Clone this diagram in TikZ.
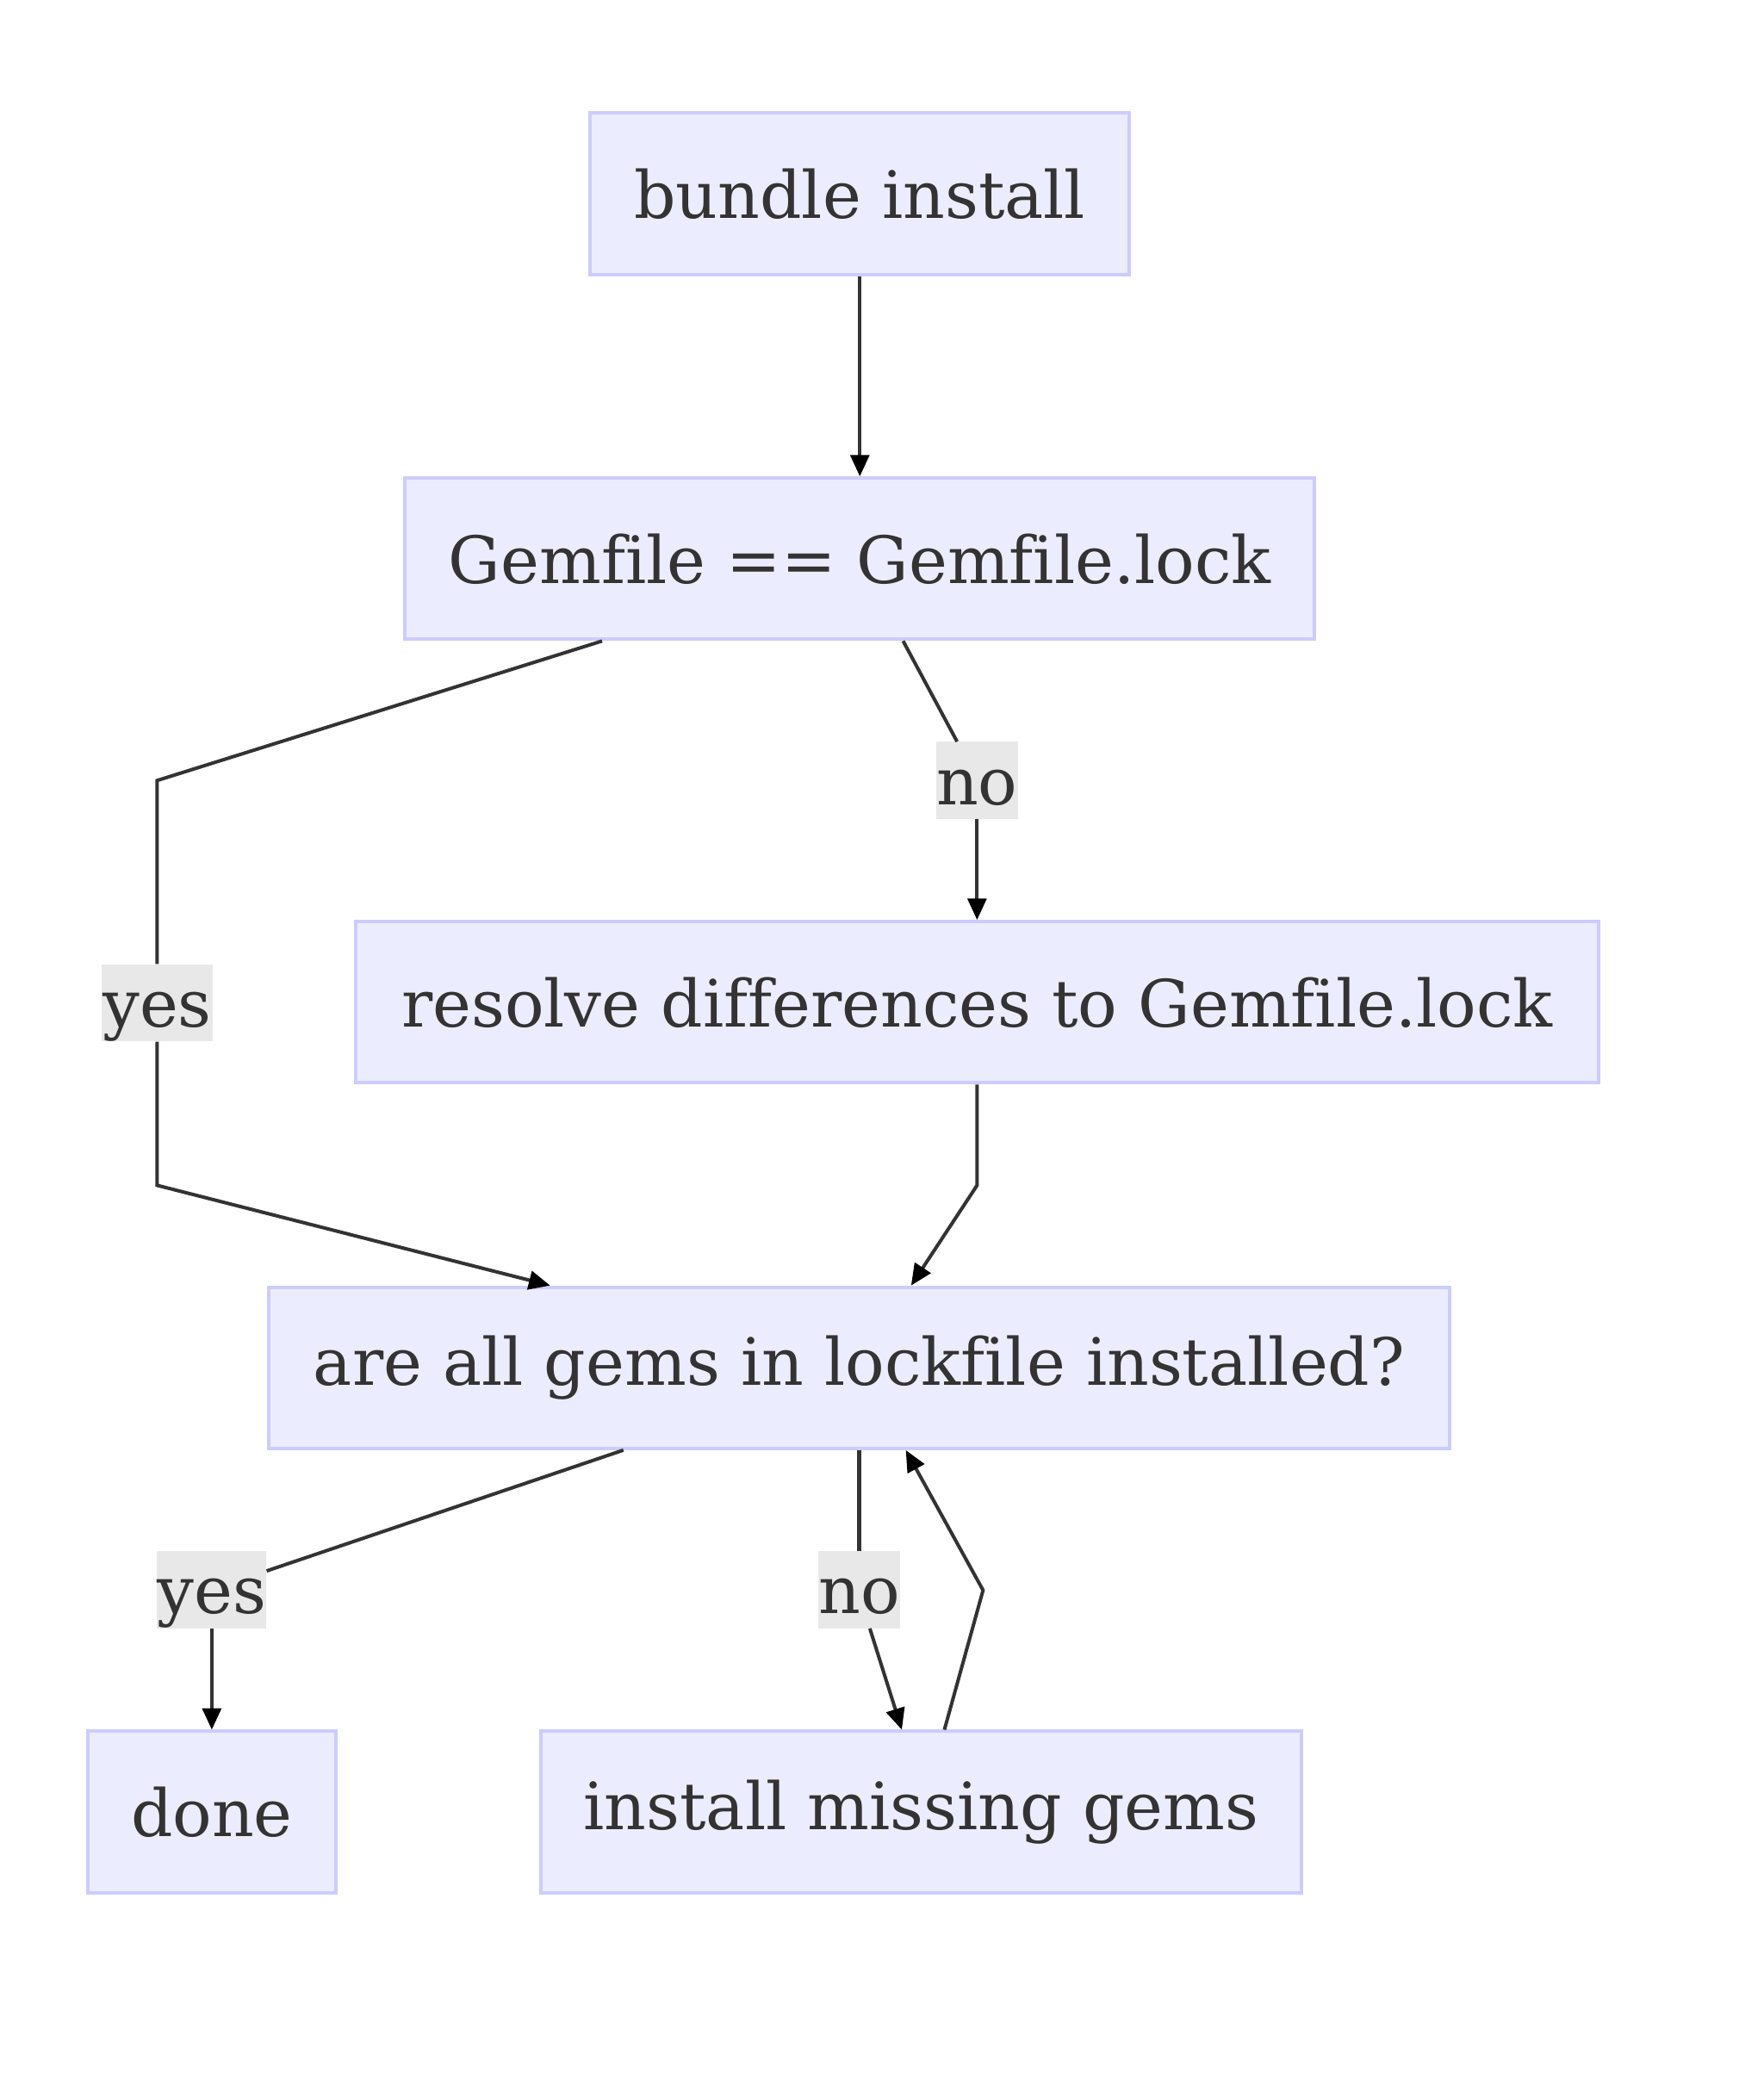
\documentclass[tikz,border=0pt]{standalone}
\usepackage{fontspec}
\setmainfont[Ligatures=NoCommon]{DejaVu Serif}
\usetikzlibrary{arrows.meta}
\definecolor{boxfill}{HTML}{ECECFF}
\definecolor{boxline}{HTML}{CCCCFF}
\definecolor{txt}{HTML}{333333}
\definecolor{lblbg}{HTML}{E8E8E8}
\begin{document}
\begin{tikzpicture}[x=1pt,y=-1pt,
  box/.style={draw=boxline,fill=boxfill,line width=2.6pt,text=txt,
    font=\fontsize{49}{58}\selectfont,inner sep=0pt,anchor=center},
  lbl/.style={fill=lblbg,text=txt,font=\fontsize{49}{58}\selectfont,
    inner sep=0pt,text height=47pt,text depth=11pt,anchor=center},
  edge/.style={draw=txt,line width=2.6pt},
  arr/.style={edge,-{Triangle[length=16pt,width=14pt,fill=black,color=black]}},
]
\useasboundingbox (0,0) rectangle (1324,1570);
\node[box,minimum width=405pt,minimum height=121pt] (bi) at (645.5,145.5) {bundle install};
\node[box,minimum width=683pt,minimum height=121pt] (gf) at (645.5,419.5) {Gemfile == Gemfile.lock};
\node[box,minimum width=933pt,minimum height=121pt] (rd) at (733.5,752.5) {resolve differences to Gemfile.lock};
\node[box,minimum width=886pt,minimum height=121pt] (ag) at (645,1027) {are all gems in lockfile installed?};
\node[box,minimum width=186pt,minimum height=121pt] (dn) at (159,1360.5) {done};
\node[box,minimum width=571pt,minimum height=121pt] (im) at (691.5,1360.5) {install missing gems};

\node[lbl,minimum width=83pt] (l1) at (118,753) {yes};
\node[lbl,minimum width=61pt] (l2) at (733.5,586) {no};
\node[lbl,minimum width=82pt] (l3) at (159,1193.5) {yes};
\node[lbl,minimum width=61pt] (l4) at (645,1193.5) {no};

\coordinate (c1) at (118,586);
\coordinate (c2) at (118,890);
\coordinate (c3) at (733.5,890);
\coordinate (c4) at (738,1194);

% bundle -> gemfile
\draw[arr] (bi.south) -- (gf.north);
% gemfile -> are all (yes)
\draw[edge] ([xshift=-193.5pt]gf.south) -- (c1) -- (l1.north);
\draw[arr] (l1.south) -- (c2) -- ([xshift=-232pt]ag.north);
% gemfile -> resolve (no)
\draw[edge] ([xshift=32.5pt]gf.south) -- ([xshift=-15pt]l2.north);
\draw[arr] (l2.south) -- (rd.north);
% resolve -> are all
\draw[arr] (rd.south) -- (c3) -- ([xshift=39pt]ag.north);
% are all -> done (yes)
\draw[edge] ([xshift=-177pt]ag.south) -- ([yshift=14pt]l3.east);
\draw[arr] (l3.south) -- (dn.north);
% are all -> install (no)
\draw[edge] (ag.south) -- (l4.north);
\draw[arr] ([xshift=8pt]l4.south) -- ([xshift=-14.5pt]im.north);
% install -> are all
\draw[arr] ([xshift=17.5pt]im.north) -- (c4) -- ([xshift=35pt]ag.south);
\end{tikzpicture}
\end{document}
